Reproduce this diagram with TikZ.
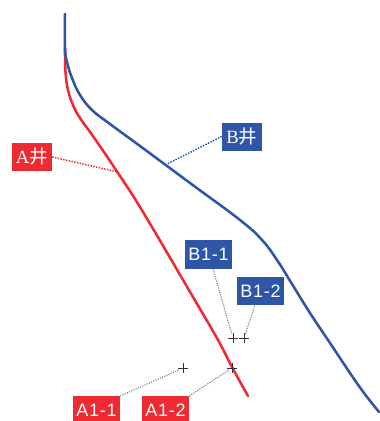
\documentclass[tikz,border=0pt]{standalone}
\usepackage{fontspec}
\setmainfont[LetterSpace=4]{Liberation Sans}
\newfontfamily\serifpart{Liberation Serif}
\newfontfamily\cjk{Noto Sans CJK SC}
\usetikzlibrary{shapes.misc}
\definecolor{wred}{HTML}{EE2A33}
\definecolor{wblue}{HTML}{2F55A6}
\tikzset{
  tag/.style={fill=#1, text=white, inner sep=0pt, anchor=center, align=center},
  wide/.style={minimum width=35.4pt, minimum height=21.4pt, font=\fontsize{13.5}{15}\selectfont},
  well/.style={minimum width=30pt, minimum height=21pt, font=\fontsize{14}{16}\selectfont},
  wellline/.style={line width=1.9pt, line join=round, line cap=round},
  lead/.style={densely dotted, line width=1.1pt, #1},
  sublead/.style={densely dotted, line width=0.8pt, black!55},
  crossmark/.style={cross out, draw=black!80, line width=0.4pt, rotate=45, minimum size=5pt, inner sep=0pt}
}
\begin{document}
\begin{tikzpicture}[x=0.75pt,y=-0.75pt]
\useasboundingbox (0,0) rectangle (379,421);
\fill[white] (0,0) rectangle (379,421);
% well paths
\draw[wellline,wred] plot[smooth,tension=0.7] coordinates {(65,48) (65.5,72) (68,90) (73,105) (80,118) (95,139) (118,173) (143,212) (193,297) (218,340) (232,367) (248,396)};
\draw[wellline,wblue] plot[smooth,tension=0.7] coordinates {(65,14) (65,48) (67,62) (72,78) (80,95) (92,110) (110,124) (140,146) (190,183) (240,220) (262,240) (277,260) (292,284) (310,313) (330,343) (350,373) (364,393) (379,412)};
% labels
\node[tag=wred,well] (aw) at (32,157) {{\serifpart A}{\cjk 井}};
\node[tag=wblue,well] (bw) at (242,136.5) {{\serifpart B}{\cjk 井}};
\node[tag=wblue,wide] (b11) at (208.5,254.5) {B1-1};
\node[tag=wblue,wide] (b12) at (260.5,291) {B1-2};
\node[tag=wred,wide] (a11) at (96.5,410.5) {A1-1};
\node[tag=wred,wide] (a12) at (165.5,410.5) {A1-2};
% marks
\node[crossmark] (mb1) at (233,338) {};
\node[crossmark] (mb2) at (244,338) {};
\node[crossmark] (ma1) at (183,368) {};
\node[crossmark] (ma2) at (232,368) {};
\coordinate (onA) at (118,172);
\coordinate (onB) at (167,164);
% leaders
\draw[lead=wred] (aw.east) -- (onA);
\draw[lead=wblue] (bw.west) -- (onB);
\draw[sublead] (b11.-73) -- (mb1);
\draw[sublead] (b12.-111) -- (mb2);
\draw[sublead] (a11.north east) -- (ma1);
\draw[sublead] (a12.north east) -- (ma2);
\end{tikzpicture}
\end{document}
